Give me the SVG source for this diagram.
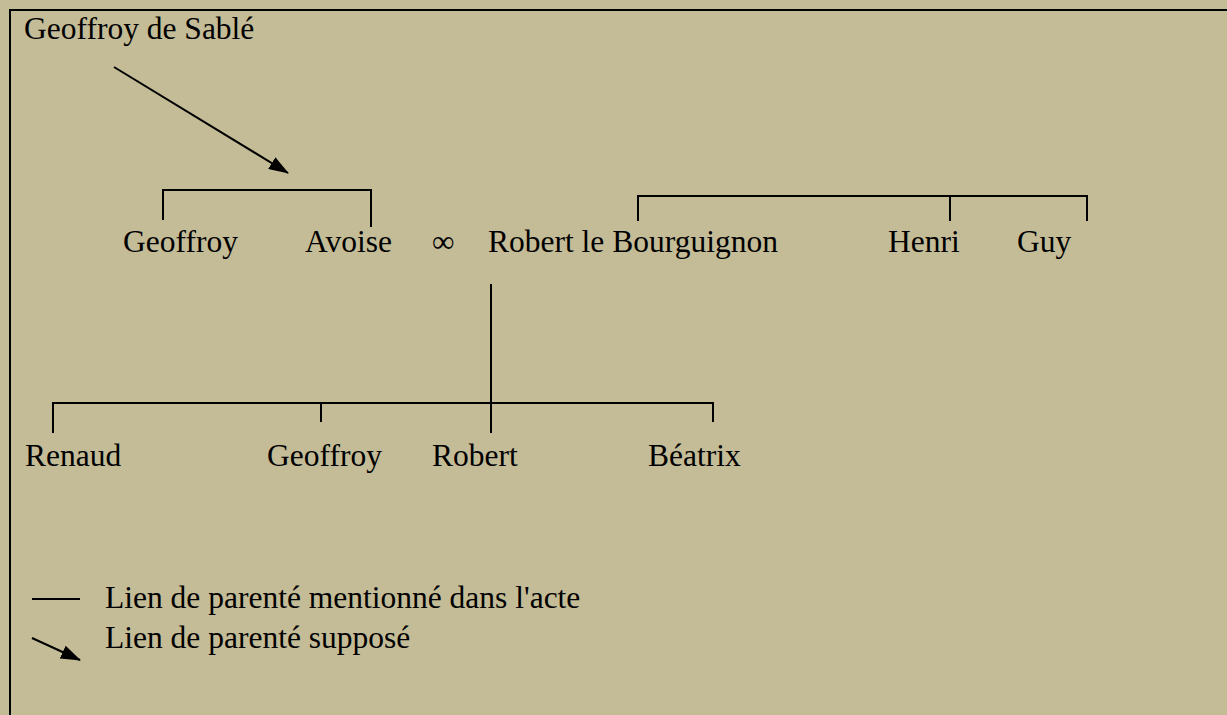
<svg xmlns="http://www.w3.org/2000/svg" width="1227" height="715" viewBox="0 0 1227 715">
<style>
.t{font-family:"Liberation Serif","Times New Roman",serif;font-size:31.5px;fill:#000}
.l{stroke:#000;stroke-width:2;fill:none}
</style>
<defs>
<marker id="ah" markerWidth="10" markerHeight="8" refX="9" refY="4" orient="auto" markerUnits="userSpaceOnUse" viewBox="0 0 10 8">
<path d="M0,0 L10,4 L0,8 z" fill="#000"/>
</marker>
<marker id="ahb" markerWidth="20" markerHeight="14" refX="19" refY="7" orient="auto" markerUnits="userSpaceOnUse" viewBox="0 0 20 14">
<path d="M0,0 L20,7 L0,14 z" fill="#000"/>
</marker>
</defs>
<rect x="0" y="0" width="1227" height="715" fill="#c4bc97"/>
<path d="M10,715 L10,10 L1227,10" stroke="#000" stroke-width="2" fill="none"/>
<g id="connectors">
<line class="l" x1="114" y1="67" x2="288" y2="173" marker-end="url(#ahb)"/>
<path class="l" d="M163,220 V190 H371 V227"/>
<path class="l" d="M638,221 V196 H1087 V221 M950,196 V221"/>
<path class="l" d="M491,284 V433"/>
<path class="l" d="M53,433 V403 H713 V422 M321,403 V422"/>
</g>
<g id="n-geoffroy-sable"><text class="t" x="24" y="39">Geoffroy de Sablé</text></g>
<g id="n-geoffroy1"><text class="t" x="123" y="252">Geoffroy</text></g>
<g id="n-avoise"><text class="t" x="305" y="252">Avoise</text></g>
<g id="n-marriage"><text class="t" x="432" y="252">∞</text></g>
<g id="n-robert-bourguignon"><text class="t" x="488" y="252">Robert le Bourguignon</text></g>
<g id="n-henri"><text class="t" x="888" y="252">Henri</text></g>
<g id="n-guy"><text class="t" x="1017" y="252">Guy</text></g>
<g id="n-renaud"><text class="t" x="25" y="466">Renaud</text></g>
<g id="n-geoffroy2"><text class="t" x="267" y="466">Geoffroy</text></g>
<g id="n-robert"><text class="t" x="432" y="466">Robert</text></g>
<g id="n-beatrix"><text class="t" x="648" y="466">Béatrix</text></g>
<g id="legend">
<line class="l" x1="32" y1="599" x2="80" y2="599"/>
<text class="t" x="105" y="608">Lien de parenté mentionné dans l'acte</text>
<line class="l" x1="32" y1="638" x2="80" y2="660" marker-end="url(#ahb)"/>
<text class="t" x="105" y="648">Lien de parenté supposé</text>
</g>
</svg>
